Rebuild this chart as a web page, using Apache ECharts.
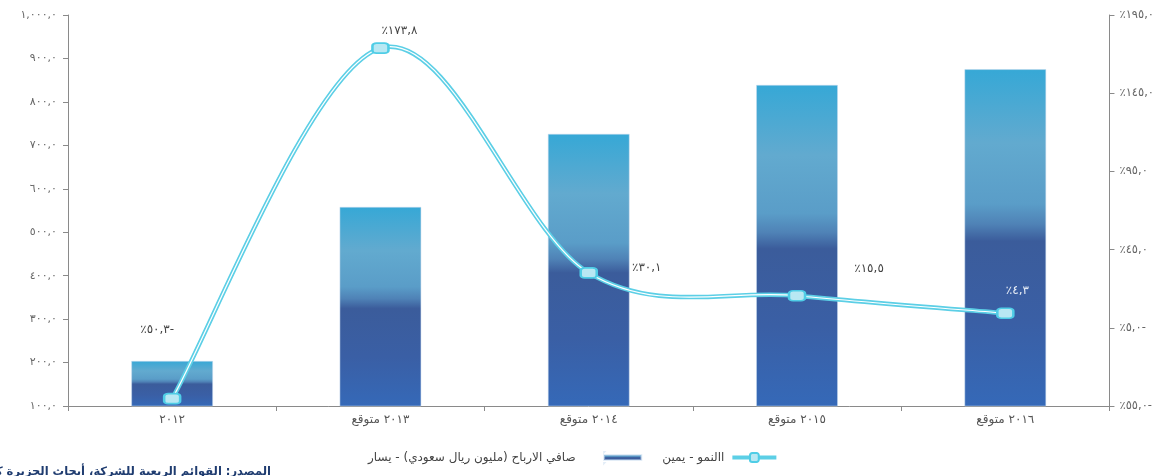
<!DOCTYPE html>
<html><head><meta charset="utf-8">
<script src="https://cdn.jsdelivr.net/npm/echarts@6/dist/echarts.min.js"></script>
<style>html,body{margin:0;padding:0;background:#fff}#c{width:1157px;height:476px}</style>
</head><body><div id="c"></div>
<script>
// ---- data ----
var categories = ['٢٠١٢', '٢٠١٣ متوقع', '٢٠١٤ متوقع', '٢٠١٥ متوقع', '٢٠١٦ متوقع'];
var netProfit = [204, 558.6, 726.7, 839.4, 875.5];          // million SAR (left axis)
var growth = [-50.3, 173.8, 30.1, 15.5, 4.3];               // % (right axis)
var growthLabels = ['٪٥٠,٣-', '٪١٧٣,٨', '٪٣٠,١', '٪١٥,٥', '٪٤,٣'];
var leftTicks = ['١٠٠,٠','٢٠٠,٠','٣٠٠,٠','٤٠٠,٠','٥٠٠,٠','٦٠٠,٠','٧٠٠,٠','٨٠٠,٠','٩٠٠,٠','١,٠٠٠,٠'];
var rightTicks = ['٪٥٥,٠-','٪٥,٠-','٪٤٥,٠','٪٩٥,٠','٪١٤٥,٠','٪١٩٥,٠'];
var barName = 'صافي الارباح (مليون ريال سعودي) - يسار';
var lineName = 'االنمو - يمين';
var sourceText = 'المصدر: القوائم الربعية للشركة، أبحاث الجزيرة كابيتال';

// ---- styling ----
var labelOffsets = [[-15, -52], [19, 0], [58, 12], [72, -10], [12, -6]];
var labelColors = ['#444', '#444', '#444', '#444', '#e8eef6'];
var CYAN = '#5ccfe6';

var chart = echarts.init(document.getElementById('c'));
function barGrad() {
  return new echarts.graphic.LinearGradient(0, 0, 0, 1, [
    {offset: 0, color: '#36a8d6'},
    {offset: 0.22, color: '#62aacf'},
    {offset: 0.40, color: '#5a9dc8'},
    {offset: 0.46, color: '#4f82b6'},
    {offset: 0.51, color: '#3b5c9b'},
    {offset: 0.75, color: '#3a5fa5'},
    {offset: 1, color: '#3569b8'}
  ]);
}
var labelData = growth.map(function (v, i) {
  return {value: v, label: {offset: labelOffsets[i], color: labelColors[i]}};
});
var axisGrey = '#8a8a8a';

// Catmull-Rom style smoothed segment (like spreadsheet smoothing), via axis coords
function renderSegment(params, api) {
  var i = params.dataIndex, n = growth.length;
  if (i >= n - 1) return null;
  function pt(k) { k = Math.max(0, Math.min(n - 1, k)); return api.coord([k, growth[k]]); }
  var p0 = pt(i - 1), p1 = pt(i), p2 = pt(i + 1), p3 = pt(i + 2);
  var t = 1 / 6;
  var shape = {
    x1: p1[0], y1: p1[1], x2: p2[0], y2: p2[1],
    cpx1: p1[0] + (p2[0] - p0[0]) * t, cpy1: p1[1] + (p2[1] - p0[1]) * t,
    cpx2: p2[0] - (p3[0] - p1[0]) * t, cpy2: p2[1] - (p3[1] - p1[1]) * t
  };
  return {
    type: 'group', children: [
      {type: 'bezierCurve', shape: shape, style: {stroke: CYAN, lineWidth: 4.5, fill: null}},
      {type: 'bezierCurve', shape: shape, style: {stroke: '#ffffff', lineWidth: 1.2, fill: null}}
    ]
  };
}

chart.setOption({
  animation: false,
  textStyle: {fontFamily: 'DejaVu Sans, sans-serif'},
  grid: {left: 68, right: 44, top: 15, bottom: 70},
  legend: {
    bottom: 7, left: 363, align: 'right', itemGap: 20, itemWidth: 44, itemHeight: 11,
    textStyle: {color: '#444', fontSize: 12},
    data: [
      {name: barName, icon: 'path://M0,0L0.01,0L0,0.01Z M0,3.5H44V9.5H0Z M0,13L0.01,13L0,13.01Z',
       textStyle: {padding: [0, 20, 0, 0]}},
      {name: lineName, textStyle: {padding: [0, 3, 0, 0]},
       lineStyle: {color: CYAN, width: 4, opacity: 1}}
    ]
  },
  xAxis: {
    type: 'category', data: categories,
    axisLine: {onZero: false, lineStyle: {color: axisGrey}},
    axisTick: {show: true, length: 5, lineStyle: {color: axisGrey}},
    axisLabel: {color: '#555', fontSize: 12, margin: 8}
  },
  yAxis: [
    {
      type: 'value', min: 100, max: 1000, interval: 100, position: 'left',
      axisLine: {show: true, lineStyle: {color: axisGrey}},
      axisTick: {show: true, length: 5, lineStyle: {color: axisGrey}},
      splitLine: {show: false},
      axisLabel: {color: '#666', fontSize: 11, margin: 11,
        formatter: function (v) { return leftTicks[Math.round((v - 100) / 100)]; }}
    },
    {
      type: 'value', min: -55, max: 195, interval: 50, position: 'right',
      axisLine: {show: true, lineStyle: {color: axisGrey}},
      axisTick: {show: true, length: 5, lineStyle: {color: axisGrey}},
      splitLine: {show: false},
      axisLabel: {color: '#666', fontSize: 11.5, margin: 10,
        formatter: function (v) { return rightTicks[Math.round((v + 55) / 50)]; }}
    }
  ],
  series: [
    {
      name: barName, type: 'bar', data: netProfit, barWidth: 82, yAxisIndex: 0,
      itemStyle: {color: barGrad(), borderColor: 'rgba(200,220,240,0.5)', borderWidth: 1}
    },
    {
      name: '_curve', type: 'custom', yAxisIndex: 1, z: 3, silent: true,
      data: growth.map(function (v, i) { return [i, v]; }),
      encode: {x: 0, y: 1},
      renderItem: renderSegment
    },
    {
      name: lineName, type: 'line', yAxisIndex: 1, data: labelData, z: 5,
      symbol: 'roundRect', symbolSize: [16, 10],
      itemStyle: {color: '#b8e8f3', borderColor: '#4fcde6', borderWidth: 2},
      lineStyle: {color: CYAN, width: 0, opacity: 0},
      label: {show: true, position: 'top', fontSize: 12, color: '#444',
        formatter: function (p) { return growthLabels[p.dataIndex]; }}
    }
  ],
  graphic: [{
    type: 'text', right: 1157 - 271, bottom: -2,
    style: {text: sourceText, fill: '#1f3c70', font: 'bold 11.5px "DejaVu Sans", sans-serif', textAlign: 'right'}
  }]
});
</script></body></html>
